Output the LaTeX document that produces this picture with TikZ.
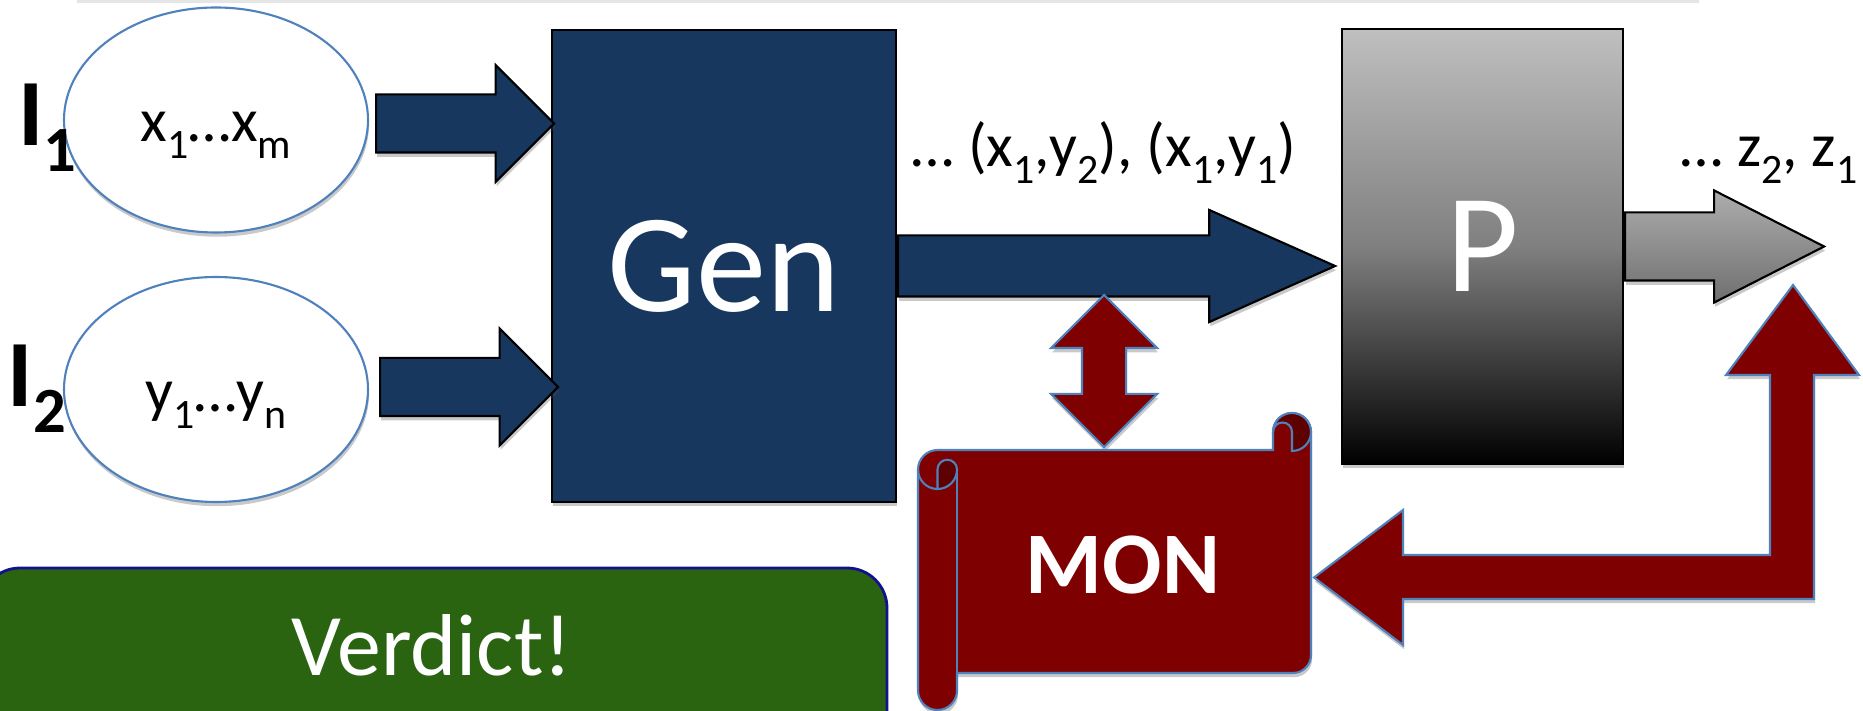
\documentclass[tikz,border=0pt]{standalone}
\usepackage{fontspec}
\setmainfont{Carlito}
\usepackage{graphicx}
\usetikzlibrary{shapes.geometric,shapes.arrows,shadows,calc,positioning}
\definecolor{GenBlue}     {HTML}{17375E}
\definecolor{MonRed}      {HTML}{7F0000}
\definecolor{MonDark}     {HTML}{5E0000}
\definecolor{EdgeBlue}    {HTML}{4F81BD}
\definecolor{VerdictGreen}{HTML}{2A6411}
\definecolor{VerdictEdge} {HTML}{12128C}
\definecolor{PLight}      {HTML}{BFBFBF}
\definecolor{ArrLight}    {HTML}{ADADAD}
\definecolor{ArrDark}     {HTML}{6F6F6F}
\newcommand{\lowsub}[1]{\raisebox{-0.27em}{\scalebox{0.68}{#1}}}
\tikzset{
  soft/.style={drop shadow={shadow xshift=0.3pt,shadow yshift=-1.2pt,
               opacity=0.3,fill=black!70}},
  inbox/.style={ellipse,draw=EdgeBlue,line width=0.6pt,fill=white,soft,
                minimum width=3.04cm,minimum height=2.25cm,
                text height=0.44cm,text depth=0pt,
                font=\fontsize{17.5}{19}\selectfont},
  inlbl/.style={anchor=base west,inner sep=0pt,
                font=\fontsize{27}{28}\selectfont\bfseries},
  lbl/.style={anchor=base west,inner sep=0pt,
              font=\fontsize{17.5}{19}\selectfont},
  genbox/.style={rectangle,draw=black,line width=0.6pt,fill=GenBlue,soft,
                 minimum width=3.44cm,minimum height=4.72cm,
                 text=white,font=\fontsize{40}{40}\selectfont},
  pbox/.style={rectangle,draw=black,line width=0.6pt,soft,
               top color=PLight,bottom color=black,middle color=gray,
               minimum width=2.81cm,minimum height=4.35cm,
               text=white,font=\fontsize{40}{40}\selectfont},
  blkarr/.style={single arrow,draw=black,line width=0.6pt,inner xsep=0pt,
                 anchor=tail,soft},
  bluearr/.style={blkarr,fill=GenBlue,inner ysep=0.28cm,minimum width=1.15cm,
                  minimum height=1.78cm,single arrow head extend=0.295cm},
  bigarr/.style={blkarr,fill=GenBlue,inner ysep=0.295cm,minimum width=1.10cm,
                 minimum height=4.37cm,single arrow head extend=0.255cm,
                 single arrow tip angle=48},
  grayarr/.style={blkarr,top color=ArrLight,bottom color=ArrDark,
                  inner ysep=0.33cm,minimum width=1.10cm,minimum height=1.99cm,
                  single arrow head extend=0.22cm,single arrow tip angle=54},
  dblarr/.style={double arrow,shape border rotate=90,draw=EdgeBlue,
                 fill=MonRed,line width=0.6pt,inner sep=0.21cm,soft,
                 minimum width=1.04cm,minimum height=1.52cm,
                 double arrow head extend=0.31cm},
  redpath/.style={draw=EdgeBlue,fill=MonRed,line width=0.6pt},
  curl/.style={draw=EdgeBlue,fill=MonDark,line width=0.6pt},
  verdictbox/.style={draw=VerdictEdge,fill=VerdictGreen,line width=0.8pt,
                     rounded corners=0.4cm},
}

\begin{document}
\begin{tikzpicture}
  \useasboundingbox (0,0) rectangle (18.63,-7.11);
  \fill[black!10] (0.77,0) rectangle (16.99,-0.03);

  % inputs
  \node[inbox] (e1) at (2.16,-1.20) {x\lowsub{1}…x\lowsub{m}};
  \node[inbox] (e2) at (2.16,-3.895) {y\lowsub{1}…y\lowsub{n}};
  \node[inlbl] (i1) at (0.18,-1.46) {I\lowsub{1}};
  \node[inlbl] (i2) at (0.07,-4.07) {I\lowsub{2}};

  \node[genbox] (gen) at (7.24,-2.66) {Gen};
  \node[bluearr] (a1) at ([xshift=0.06cm,yshift=-0.035cm]e1.east) {};
  \node[bluearr] (a2) at ([xshift=0.10cm,yshift=0.025cm]e2.east) {};

  % stream
  \node[pbox] (p) at (14.825,-2.465) {P};
  \node[bigarr] (a3) at (gen.east) {};
  \node[grayarr] (a4) at (p.east) {};
  \node[lbl] (pairs) at (9.11,-1.67)
    {… (x\lowsub{1},y\lowsub{2}), (x\lowsub{1},y\lowsub{1})};
  \node[lbl] (outs) at (16.80,-1.67) {… z\lowsub{2}, z\lowsub{1}};

  % monitor scroll
  \node[dblarr] (link) at (11.04,-3.71) {};
  \path[redpath,soft] (9.18,-4.695) arc[start angle=180,end angle=90,radius=0.195]
    -- (12.73,-4.50) -- (12.73,-4.32) arc[start angle=180,end angle=0,radius=0.19]
    -- (13.11,-6.55) arc[start angle=0,end angle=-90,radius=0.18]
    -- (9.57,-6.73) -- (9.57,-6.905) arc[start angle=0,end angle=-180,radius=0.195]
    -- cycle;
  \draw[EdgeBlue,line width=0.6pt] (9.57,-4.695) -- (9.57,-6.73);
  \draw[EdgeBlue,line width=0.6pt] (9.18,-4.695) arc[start angle=180,end angle=270,radius=0.195];
  \path[curl] (9.375,-4.89) -- (9.375,-4.695) arc[start angle=180,end angle=0,radius=0.0975]
    arc[start angle=0,end angle=-90,radius=0.195] -- cycle;
  \path[curl] (12.73,-4.32) arc[start angle=180,end angle=-90,radius=0.19]
    -- (12.92,-4.32) arc[start angle=0,end angle=180,radius=0.095] -- cycle;
  \node[text=white,font=\fontsize{25}{26}\selectfont\bfseries] (mon) at (11.23,-5.645) {MON};

  % feedback arrow
  \coordinate (monin) at ($(mon.east -| 13.14,0)+(0,-0.13)$);
  \coordinate (pout) at (17.93,-2.85);
  \path[redpath,soft] (monin) -- (14.03,-5.10) -- (14.03,-5.55) -- (17.70,-5.55)
    -- (17.70,-3.75) -- (17.26,-3.75) -- (pout) -- (18.59,-3.75) -- (18.14,-3.75)
    -- (18.14,-5.99) -- (14.03,-5.99) -- (14.03,-6.45) -- cycle;

  % verdict
  \path[verdictbox] (-0.2,-5.68) rectangle (8.87,-7.6);
  \node[text=white,font=\fontsize{25}{26}\selectfont] (verdict) at (4.32,-6.455) {Verdict!};

\end{tikzpicture}
\end{document}
